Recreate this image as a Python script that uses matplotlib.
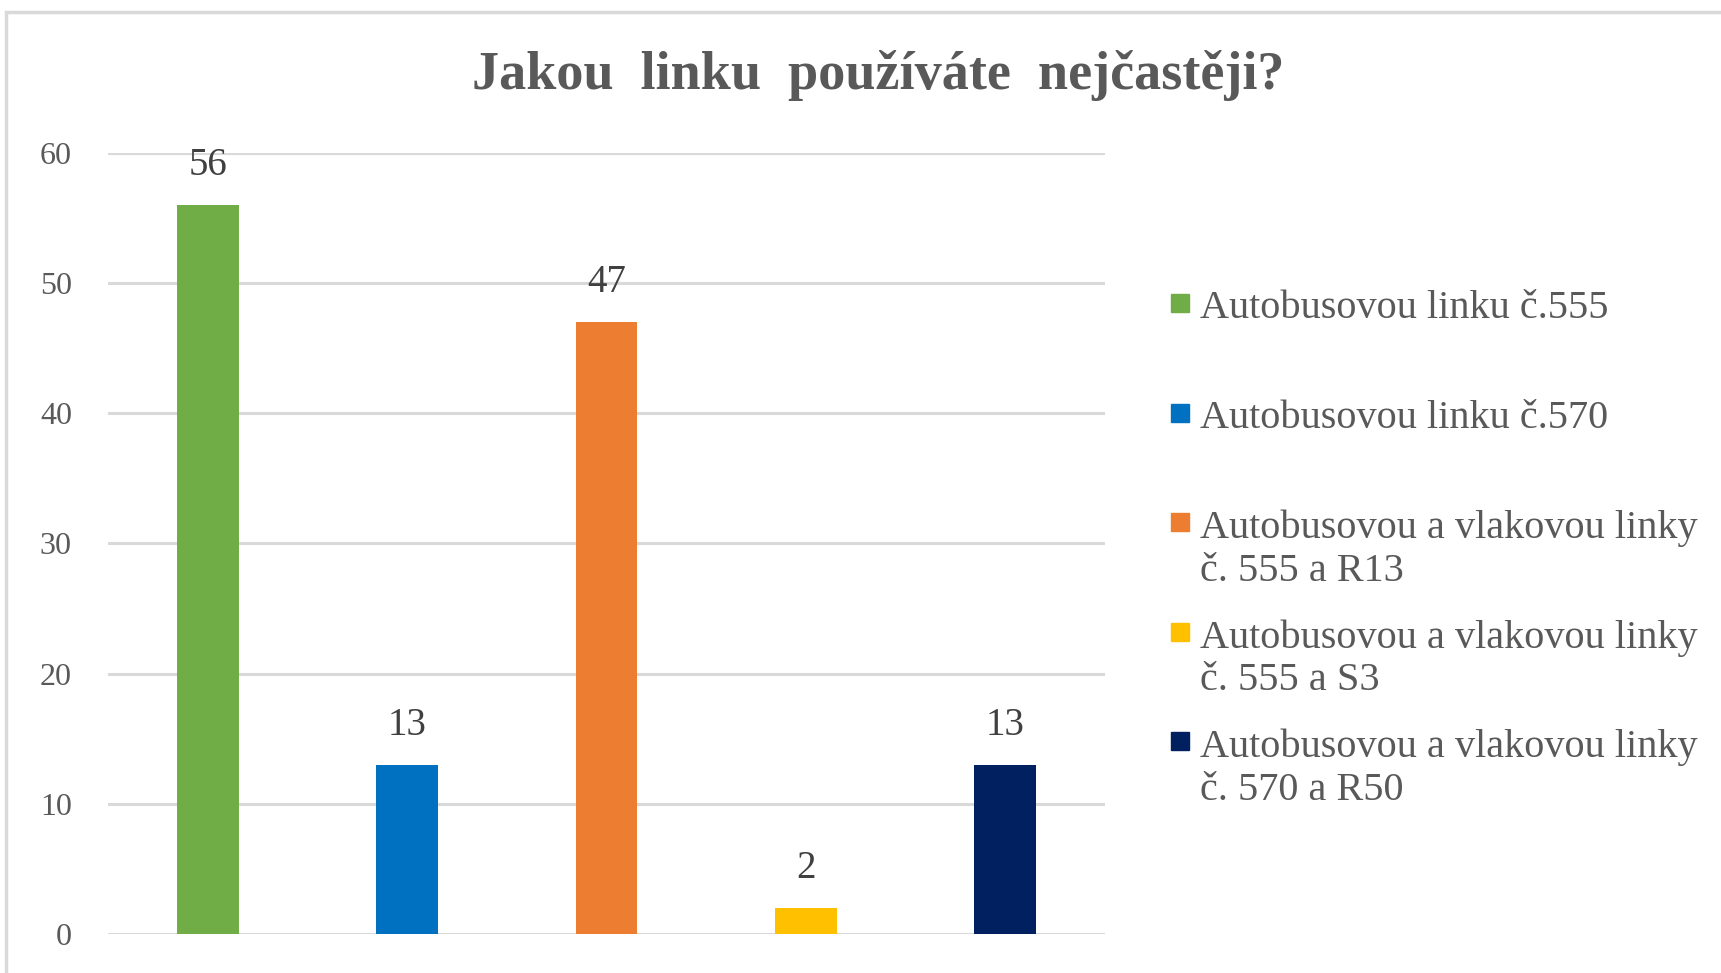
import matplotlib
matplotlib.use("Agg")
from matplotlib import pyplot as plt
from matplotlib.patches import Rectangle

plt.rcParams['font.family'] = ['Liberation Serif', 'DejaVu Serif']

categories = ["Autobusovou linku č.555",
              "Autobusovou linku č.570",
              "Autobusovou a vlakovou linky\nč. 555 a R13",
              "Autobusovou a vlakovou linky\nč. 555 a S3",
              "Autobusovou a vlakovou linky\nč. 570 a R50"]
values = [56, 13, 47, 2, 13]
colors = ["#70AD47", "#0070C0", "#ED7D31", "#FFC000", "#002060"]
yticks = [0, 10, 20, 30, 40, 50, 60]
title = "Jakou  linku  používáte  nejčastěji?"

W, H = 1721, 973
fig = plt.figure(figsize=(W / 100, H / 100), dpi=100)
ax = fig.add_axes([108 / W, 1 - 934 / H, (1105 - 108) / W, (934 - 152.6) / H])

# outer chart border (cut off at right and bottom like the screenshot)
fig.patches.append(Rectangle((6 / W, -0.1), 2, 1 - 12 / H + 0.1, transform=fig.transFigure,
                             fill=False, ec="#D9D9D9", lw=2.5))

x = list(range(len(values)))
bars = ax.bar(x, values, width=0.31, color=colors, zorder=3)
for xi, v in zip(x, values):
    ax.annotate(str(v), (xi, v), xytext=(0, 15), textcoords="offset points",
                ha="center", va="bottom", fontsize=28, color="#404040", annotation_clip=False)

ax.set_xlim(-0.5, 4.5)
ax.set_ylim(0, 60)
ax.set_yticks(yticks)
ax.set_xticks([])
ax.tick_params(axis="y", length=0, pad=26, labelsize=23, labelcolor="#595959")
ax.yaxis.grid(True, color="#D9D9D9", lw=2.2, zorder=0)
for s in ax.spines.values():
    s.set_visible(False)

fig.text(878 / W, 1 - 75 / H, title, ha="center", va="center", fontsize=39,
         fontweight="bold", color="#595959")

# legend drawn by hand so the marker sits on the first line
step = 44
for i, (lab, c) in enumerate(zip(categories, colors)):
    yc = 303 + i * 109.5
    nlines = lab.count("\n")
    fig.patches.append(Rectangle((1171 / W, 1 - (yc + 9) / H), 18 / W, 18 / H,
                                 transform=fig.transFigure, color=c))
    # va='baseline' anchors the last line, so push down by the extra lines
    fig.text(1200 / W, 1 - (yc + 15 + nlines * step) / H, lab, ha="left", va="baseline",
             fontsize=29, color="#595959", linespacing=1.2)

fig.savefig("out.png", dpi=100)
